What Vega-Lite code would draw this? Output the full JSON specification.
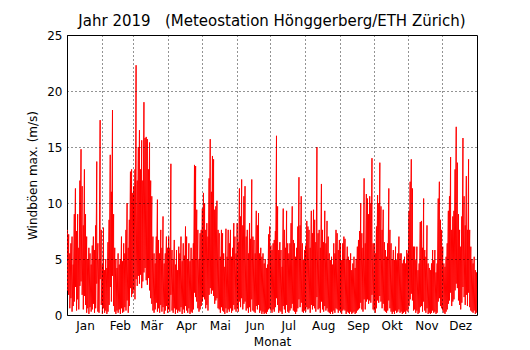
{
"$schema": "https://vega.github.io/schema/vega-lite/v6.json",
"width": 410, "height": 280,
"autosize": {"type": "none"},
"padding": {"left": 67, "top": 35, "right": 53, "bottom": 35},
"background": "white",
"title": {"text": "Jahr 2019\u00a0\u00a0\u00a0(Meteostation Hönggerberg/ETH Zürich)", "fontSize": 15, "fontWeight": "normal", "color": "black", "anchor": "middle", "frame": "group", "baseline": "alphabetic", "offset": 7, "dy": 19},
"data": {"values": [
{"d":0,"h":7.6,"l":2.2},{"d":1,"h":7.2,"l":1.8},{"d":2,"h":5.5,"l":0.6},{"d":3,"h":6.4,"l":1.5},{"d":4,"h":7,"l":0.3},{"d":5,"h":4.5,"l":0.8},{"d":6,"h":9,"l":1.2},{"d":7,"h":11.3,"l":2.5},{"d":8,"h":7.5,"l":0.4},{"d":9,"h":9,"l":1.4},
{"d":10,"h":6,"l":0.5},{"d":11,"h":12,"l":2.6},{"d":12,"h":14.8,"l":3},{"d":13,"h":11.5,"l":1.8},{"d":14,"h":8,"l":0.5},{"d":15,"h":13,"l":1.7},{"d":16,"h":9,"l":0.9},{"d":17,"h":7,"l":0.2},{"d":18,"h":5,"l":0.6},{"d":19,"h":6,"l":0.1},
{"d":20,"h":5.5,"l":0.7},{"d":21,"h":4.5,"l":0.3},{"d":22,"h":6.2,"l":0.5},{"d":23,"h":7,"l":1},{"d":24,"h":5.8,"l":0.2},{"d":25,"h":8,"l":0.6},{"d":26,"h":13.7,"l":2.8},{"d":27,"h":6.4,"l":0.3},{"d":28,"h":5,"l":0.2},{"d":29,"h":17.4,"l":3.2},
{"d":30,"h":7.6,"l":0.9},{"d":31,"h":4.5,"l":0.1},{"d":32,"h":7.8,"l":0.6},{"d":33,"h":4,"l":0.2},{"d":34,"h":5,"l":0.4},{"d":35,"h":4.2,"l":0.1},{"d":36,"h":6.5,"l":0.3},{"d":37,"h":8.5,"l":0.9},{"d":38,"h":14.3,"l":2.5},{"d":39,"h":11,"l":1.2},
{"d":40,"h":18.3,"l":3.5},{"d":41,"h":9,"l":0.8},{"d":42,"h":6,"l":0.3},{"d":43,"h":5,"l":0.1},{"d":44,"h":4.2,"l":0.4},{"d":45,"h":5.5,"l":0.2},{"d":46,"h":4.5,"l":0.5},{"d":47,"h":5,"l":0.1},{"d":48,"h":7,"l":0.6},{"d":49,"h":4.8,"l":0.2},
{"d":50,"h":6.4,"l":0.3},{"d":51,"h":5.5,"l":0.7},{"d":52,"h":7.6,"l":0.4},{"d":53,"h":10,"l":1.3},{"d":54,"h":6,"l":0.2},{"d":55,"h":8.5,"l":0.8},{"d":56,"h":12.8,"l":2.4},{"d":57,"h":13,"l":1.6},{"d":58,"h":10.9,"l":1.9},{"d":59,"h":11.5,"l":2.2},
{"d":60,"h":13,"l":1.4},{"d":61,"h":22.3,"l":3.2},{"d":62,"h":12,"l":2.6},{"d":63,"h":15,"l":3.5},{"d":64,"h":16.5,"l":2.8},{"d":65,"h":13,"l":3.6},{"d":66,"h":15.6,"l":2.4},{"d":67,"h":12,"l":3},{"d":68,"h":19,"l":3.8},{"d":69,"h":15.8,"l":4.2},
{"d":70,"h":15.9,"l":3.1},{"d":71,"h":15.7,"l":2.7},{"d":72,"h":13,"l":3.3},{"d":73,"h":15.4,"l":2.2},{"d":74,"h":12,"l":1.5},{"d":75,"h":10.6,"l":1},{"d":76,"h":7,"l":0.4},{"d":77,"h":5.5,"l":0.2},{"d":78,"h":4.6,"l":0.5},{"d":79,"h":7,"l":1.1},
{"d":80,"h":10.3,"l":0.3},{"d":81,"h":6.7,"l":0.6},{"d":82,"h":5.5,"l":0.2},{"d":83,"h":7.6,"l":0.9},{"d":84,"h":6,"l":0.3},{"d":85,"h":8.8,"l":0.7},{"d":86,"h":4.6,"l":0.1},{"d":87,"h":5.5,"l":0.4},{"d":88,"h":7,"l":0.8},{"d":89,"h":6,"l":0.2},
{"d":90,"h":7,"l":0.5},{"d":91,"h":6,"l":0.3},{"d":92,"h":13.5,"l":1.8},{"d":93,"h":5.8,"l":0.4},{"d":94,"h":5,"l":0.2},{"d":95,"h":6.7,"l":0.6},{"d":96,"h":4.5,"l":0.1},{"d":97,"h":5.8,"l":0.5},{"d":98,"h":4,"l":0.2},{"d":99,"h":6.1,"l":0.4},
{"d":100,"h":5.5,"l":0.3},{"d":101,"h":7,"l":0.7},{"d":102,"h":4.8,"l":0.1},{"d":103,"h":6.4,"l":0.5},{"d":104,"h":5.3,"l":0.2},{"d":105,"h":7.9,"l":0.8},{"d":106,"h":7,"l":0.4},{"d":107,"h":5,"l":0.2},{"d":108,"h":6.4,"l":0.6},{"d":109,"h":4.8,"l":0.1},
{"d":110,"h":6,"l":0.3},{"d":111,"h":5,"l":0.2},{"d":112,"h":6.4,"l":0.5},{"d":113,"h":13.4,"l":2},{"d":114,"h":13.3,"l":1.6},{"d":115,"h":9.4,"l":1.2},{"d":116,"h":7.6,"l":0.6},{"d":117,"h":5,"l":0.3},{"d":118,"h":7.3,"l":0.5},{"d":119,"h":7.6,"l":0.8},
{"d":120,"h":9.5,"l":1.2},{"d":121,"h":10.9,"l":1.6},{"d":122,"h":10,"l":1.4},{"d":123,"h":7.6,"l":0.6},{"d":124,"h":8.2,"l":0.9},{"d":125,"h":7,"l":0.4},{"d":126,"h":12.2,"l":1.8},{"d":127,"h":15.7,"l":2.4},{"d":128,"h":11,"l":1.9},{"d":129,"h":14.2,"l":2.2},
{"d":130,"h":13.9,"l":1.7},{"d":131,"h":9.4,"l":1},{"d":132,"h":9.7,"l":1.3},{"d":133,"h":10.2,"l":1.5},{"d":134,"h":7.6,"l":0.6},{"d":135,"h":7.3,"l":0.5},{"d":136,"h":5.2,"l":0.2},{"d":137,"h":7.6,"l":0.7},{"d":138,"h":7.3,"l":0.4},{"d":139,"h":5.5,"l":0.3},
{"d":140,"h":4.3,"l":0.1},{"d":141,"h":7.7,"l":0.6},{"d":142,"h":5.2,"l":0.2},{"d":143,"h":7.6,"l":0.5},{"d":144,"h":6.4,"l":0.3},{"d":145,"h":7.6,"l":0.6},{"d":146,"h":5.2,"l":0.2},{"d":147,"h":6,"l":0.4},{"d":148,"h":8.2,"l":0.9},{"d":149,"h":7,"l":0.5},
{"d":150,"h":5.5,"l":0.3},{"d":151,"h":8.2,"l":0.6},{"d":152,"h":6.5,"l":0.3},{"d":153,"h":11.3,"l":1.2},{"d":154,"h":8.8,"l":0.7},{"d":155,"h":12.1,"l":1.5},{"d":156,"h":8,"l":0.5},{"d":157,"h":10.6,"l":1},{"d":158,"h":11.5,"l":1.2},{"d":159,"h":7,"l":0.4},
{"d":160,"h":7.6,"l":0.6},{"d":161,"h":5.5,"l":0.2},{"d":162,"h":8.2,"l":0.7},{"d":163,"h":6.8,"l":0.3},{"d":164,"h":12.1,"l":1.4},{"d":165,"h":7,"l":0.4},{"d":166,"h":6.7,"l":0.3},{"d":167,"h":5.5,"l":0.2},{"d":168,"h":9.3,"l":0.8},{"d":169,"h":8,"l":0.5},
{"d":170,"h":9.1,"l":0.9},{"d":171,"h":5.5,"l":0.2},{"d":172,"h":6,"l":0.4},{"d":173,"h":5.2,"l":0.1},{"d":174,"h":5.5,"l":0.3},{"d":175,"h":4.6,"l":0.1},{"d":176,"h":5,"l":0.2},{"d":177,"h":4.2,"l":0.1},{"d":178,"h":4.5,"l":0.3},{"d":179,"h":7.2,"l":0.5},
{"d":180,"h":7.9,"l":0.6},{"d":181,"h":6.2,"l":0.4},{"d":182,"h":5.8,"l":0.2},{"d":183,"h":6.4,"l":0.5},{"d":184,"h":6.7,"l":0.3},{"d":185,"h":7.5,"l":0.7},{"d":186,"h":16,"l":1.5},{"d":187,"h":9.7,"l":0.9},{"d":188,"h":5.8,"l":0.2},{"d":189,"h":6.5,"l":0.4},
{"d":190,"h":5.8,"l":0.3},{"d":191,"h":4.3,"l":0.1},{"d":192,"h":9.5,"l":0.8},{"d":193,"h":7.6,"l":0.5},{"d":194,"h":6,"l":0.2},{"d":195,"h":9.3,"l":0.9},{"d":196,"h":6.4,"l":0.3},{"d":197,"h":5.5,"l":0.2},{"d":198,"h":6.4,"l":0.4},{"d":199,"h":8.2,"l":0.6},
{"d":200,"h":9.7,"l":1},{"d":201,"h":6.7,"l":0.4},{"d":202,"h":6.4,"l":0.3},{"d":203,"h":5.2,"l":0.1},{"d":204,"h":6,"l":0.3},{"d":205,"h":7.9,"l":0.6},{"d":206,"h":12.3,"l":1.4},{"d":207,"h":8,"l":0.7},{"d":208,"h":10.6,"l":1.1},{"d":209,"h":6.4,"l":0.3},
{"d":210,"h":4.9,"l":0.2},{"d":211,"h":5.8,"l":0.4},{"d":212,"h":6.2,"l":0.3},{"d":213,"h":8.4,"l":0.7},{"d":214,"h":7.9,"l":0.5},{"d":215,"h":7.6,"l":0.6},{"d":216,"h":6,"l":0.2},{"d":217,"h":9.3,"l":0.9},{"d":218,"h":7.3,"l":0.5},{"d":219,"h":9.4,"l":0.8},
{"d":220,"h":8.5,"l":0.6},{"d":221,"h":6.5,"l":0.3},{"d":222,"h":15,"l":1.6},{"d":223,"h":7.3,"l":0.5},{"d":224,"h":7.6,"l":0.6},{"d":225,"h":6,"l":0.2},{"d":226,"h":11.7,"l":1.2},{"d":227,"h":7.6,"l":0.5},{"d":228,"h":6.5,"l":0.3},{"d":229,"h":9.3,"l":0.8},
{"d":230,"h":6.4,"l":0.4},{"d":231,"h":8.4,"l":0.6},{"d":232,"h":7,"l":0.3},{"d":233,"h":5.5,"l":0.2},{"d":234,"h":4.9,"l":0.1},{"d":235,"h":5.2,"l":0.3},{"d":236,"h":4.5,"l":0.1},{"d":237,"h":6.4,"l":0.4},{"d":238,"h":5.5,"l":0.2},{"d":239,"h":7.6,"l":0.6},
{"d":240,"h":7.3,"l":0.5},{"d":241,"h":5.8,"l":0.2},{"d":242,"h":6.7,"l":0.4},{"d":243,"h":6.4,"l":0.3},{"d":244,"h":4.9,"l":0.1},{"d":245,"h":6.4,"l":0.4},{"d":246,"h":7,"l":0.5},{"d":247,"h":6.8,"l":0.4},{"d":248,"h":5,"l":0.1},{"d":249,"h":6.1,"l":0.3},
{"d":250,"h":5.2,"l":0.2},{"d":251,"h":4.9,"l":0.1},{"d":252,"h":5.5,"l":0.3},{"d":253,"h":4,"l":0.1},{"d":254,"h":4.6,"l":0.2},{"d":255,"h":5.2,"l":0.3},{"d":256,"h":4.2,"l":0.1},{"d":257,"h":5,"l":0.2},{"d":258,"h":6.1,"l":0.4},{"d":259,"h":6.7,"l":0.5},
{"d":260,"h":7.5,"l":0.6},{"d":261,"h":10,"l":1.1},{"d":262,"h":7.3,"l":0.5},{"d":263,"h":6,"l":0.3},{"d":264,"h":12.2,"l":1.4},{"d":265,"h":6.4,"l":0.5},{"d":266,"h":10.8,"l":1.2},{"d":267,"h":10.4,"l":1.4},{"d":268,"h":9,"l":1},{"d":269,"h":10.6,"l":1.3},
{"d":270,"h":10,"l":1.1},{"d":271,"h":14,"l":1.8},{"d":272,"h":6.4,"l":0.5},{"d":273,"h":6.4,"l":0.4},{"d":274,"h":5.5,"l":0.2},{"d":275,"h":7.9,"l":0.6},{"d":276,"h":10.7,"l":1.3},{"d":277,"h":10,"l":1.1},{"d":278,"h":13.6,"l":1.7},{"d":279,"h":9.7,"l":1.2},
{"d":280,"h":7.6,"l":0.6},{"d":281,"h":9.4,"l":1},{"d":282,"h":6.5,"l":0.4},{"d":283,"h":5.8,"l":0.3},{"d":284,"h":5.2,"l":0.2},{"d":285,"h":6.4,"l":0.4},{"d":286,"h":11.3,"l":1.3},{"d":287,"h":7.6,"l":0.6},{"d":288,"h":6.4,"l":0.3},{"d":289,"h":5,"l":0.1},
{"d":290,"h":5.8,"l":0.3},{"d":291,"h":4.9,"l":0.1},{"d":292,"h":6.1,"l":0.4},{"d":293,"h":4.9,"l":0.2},{"d":294,"h":5.5,"l":0.3},{"d":295,"h":7,"l":0.5},{"d":296,"h":5.5,"l":0.2},{"d":297,"h":5.5,"l":0.3},{"d":298,"h":4.6,"l":0.1},{"d":299,"h":4.9,"l":0.2},
{"d":300,"h":5.2,"l":0.3},{"d":301,"h":4.6,"l":0.1},{"d":302,"h":5.8,"l":0.4},{"d":303,"h":5.5,"l":0.3},{"d":304,"h":9.3,"l":0.8},{"d":305,"h":11.9,"l":1.4},{"d":306,"h":13.9,"l":1.9},{"d":307,"h":11.3,"l":1.3},{"d":308,"h":6.1,"l":0.4},{"d":309,"h":6.1,"l":0.5},
{"d":310,"h":4.9,"l":0.2},{"d":311,"h":6.1,"l":0.4},{"d":312,"h":4,"l":0.1},{"d":313,"h":4.6,"l":0.2},{"d":314,"h":8.3,"l":0.7},{"d":315,"h":8.4,"l":0.8},{"d":316,"h":6,"l":0.3},{"d":317,"h":10.4,"l":1.2},{"d":318,"h":5.8,"l":0.4},{"d":319,"h":5.2,"l":0.2},
{"d":320,"h":8,"l":0.6},{"d":321,"h":4.6,"l":0.1},{"d":322,"h":4.2,"l":0.2},{"d":323,"h":4,"l":0.1},{"d":324,"h":4.6,"l":0.2},{"d":325,"h":5.8,"l":0.4},{"d":326,"h":4.9,"l":0.2},{"d":327,"h":5.8,"l":0.3},{"d":328,"h":3.8,"l":0.1},{"d":329,"h":4.6,"l":0.2},
{"d":330,"h":10.4,"l":1.2},{"d":331,"h":11.9,"l":1.5},{"d":332,"h":8.5,"l":0.8},{"d":333,"h":7.6,"l":0.6},{"d":334,"h":6.1,"l":0.4},{"d":335,"h":4.6,"l":0.2},{"d":336,"h":4.3,"l":0.1},{"d":337,"h":5.2,"l":0.3},{"d":338,"h":6.4,"l":0.5},{"d":339,"h":9.3,"l":1},
{"d":340,"h":10.6,"l":1.3},{"d":341,"h":14.1,"l":2},{"d":342,"h":7.6,"l":0.8},{"d":343,"h":8.8,"l":1.2},{"d":344,"h":9.3,"l":1.4},{"d":345,"h":13,"l":2.2},{"d":346,"h":16.8,"l":2.8},{"d":347,"h":13.6,"l":2.4},{"d":348,"h":9,"l":1.3},{"d":349,"h":7.6,"l":0.9},
{"d":350,"h":6.1,"l":0.5},{"d":351,"h":8.8,"l":1.1},{"d":352,"h":15.8,"l":2.5},{"d":353,"h":10.6,"l":1.6},{"d":354,"h":8,"l":0.9},{"d":355,"h":12.4,"l":1.8},{"d":356,"h":7.6,"l":0.8},{"d":357,"h":13.9,"l":2},{"d":358,"h":7.6,"l":0.7},{"d":359,"h":6.1,"l":0.4},
{"d":360,"h":5,"l":0.3},{"d":361,"h":4.6,"l":0.2},{"d":362,"h":5.2,"l":0.4},{"d":363,"h":4,"l":0.1},{"d":364,"h":3.8,"l":0.2}
]},
"transform": [{"fold": ["h", "l"], "as": ["k", "v"]}],
"mark": {"type": "line", "color": "#ff0000", "strokeWidth": 1},
"encoding": {
  "x": {"field": "d", "type": "quantitative",
    "scale": {"domain": [-0.5, 364.5], "nice": false, "zero": false},
    "axis": {"values": [-0.5, 30.5, 58.5, 89.5, 119.5, 150.5, 180.5, 211.5, 242.5, 272.5, 303.5, 333.5],
      "labelExpr": "datum.value < 30 ? 'Jan' : datum.value < 58 ? 'Feb' : datum.value < 89 ? 'Mär' : datum.value < 119 ? 'Apr' : datum.value < 150 ? 'Mai' : datum.value < 180 ? 'Jun' : datum.value < 211 ? 'Jul' : datum.value < 242 ? 'Aug' : datum.value < 272 ? 'Sep' : datum.value < 303 ? 'Okt' : datum.value < 333 ? 'Nov' : 'Dez'",
      "labelOffset": 18, "labelOverlap": false, "labelFlush": false, "labelFontSize": 12, "labelColor": "black", "labelPadding": 5,
      "grid": true, "gridColor": "black", "gridDash": [1, 3], "gridWidth": 1, "gridOpacity": 0.85,
      "ticks": false, "domain": false, "zindex": 1,
      "title": "Monat", "titleFontSize": 12, "titleFontWeight": "normal", "titleColor": "black", "titlePadding": 5}},
  "y": {"field": "v", "type": "quantitative",
    "scale": {"domain": [0, 25], "nice": false},
    "axis": {"values": [0, 5, 10, 15, 20, 25], "format": "d", "labelFontSize": 12, "labelColor": "black", "labelPadding": 5,
      "grid": true, "gridColor": "black", "gridDash": [1, 3], "gridWidth": 1, "gridOpacity": 0.85,
      "ticks": false, "domain": false, "zindex": 1,
      "title": "Windböen max. (m/s)", "titleFontSize": 12, "titleFontWeight": "normal", "titleColor": "black", "titlePadding": 7}}
},
"config": {"font": "DejaVu Sans", "view": {"stroke": "black", "strokeWidth": 1}}
}
